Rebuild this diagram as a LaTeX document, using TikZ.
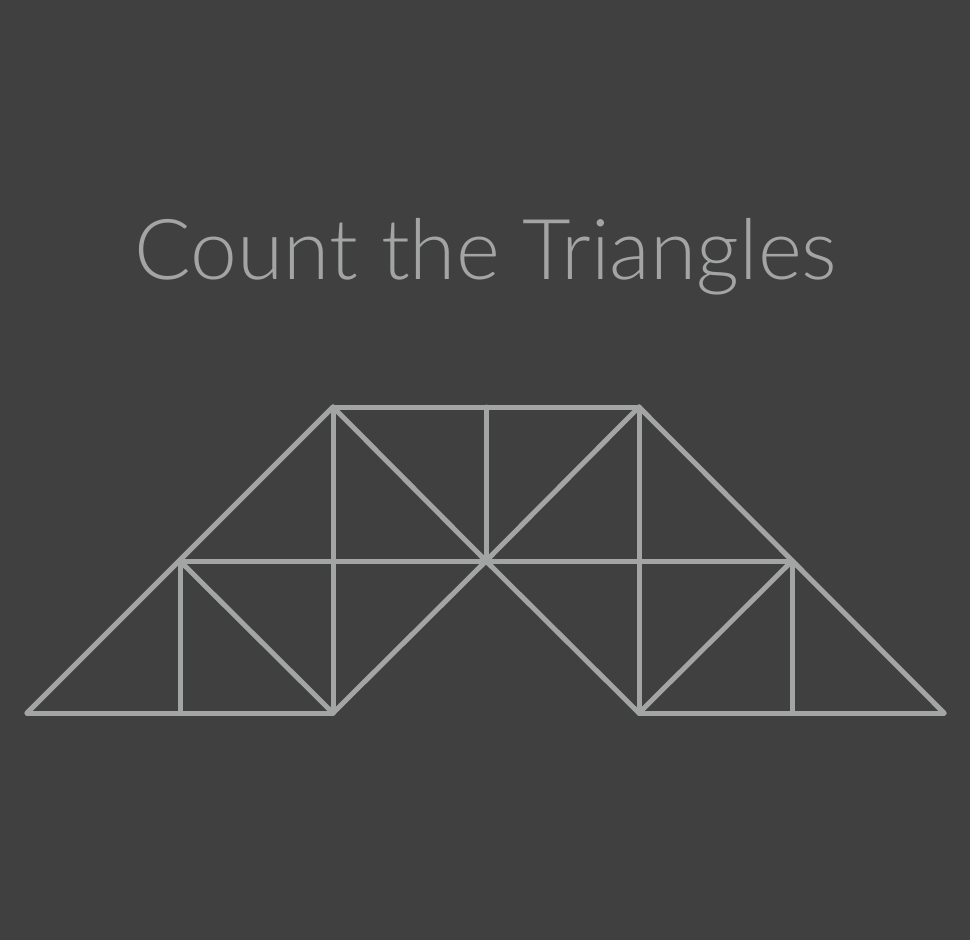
\documentclass[tikz,border=0pt]{standalone}
\usepackage{fontspec}
\setmainfont{Lato}[UprightFont={* Light}]
\definecolor{bg}{HTML}{404040}
\definecolor{ln}{HTML}{A3A5A4}
\begin{document}
\begin{tikzpicture}[x=1pt,y=-1pt,
  truss/.style={draw=ln,line width=5pt,line cap=round,line join=round},
  titletext/.style={text=ln,font=\fontsize{84}{94}\selectfont,inner sep=0pt,anchor=base}]
\fill[bg] (0,0) rectangle (970,940);
\useasboundingbox (0,0) rectangle (970,940);
\node[titletext] (title) at (486,279) {Count the Triangles};
% bottom row
\coordinate (b1) at (27,713);
\coordinate (b2) at (180,713);
\coordinate (b3) at (333,713);
\coordinate (b5) at (639,713);
\coordinate (b6) at (792,713);
\coordinate (b7) at (944,713);
% middle row
\coordinate (m2) at (180,561);
\coordinate (m3) at (333,561);
\coordinate (m4) at (486,561);
\coordinate (m5) at (639,561);
\coordinate (m6) at (792,561);
% top row
\coordinate (t3) at (333,407);
\coordinate (t4) at (486,407);
\coordinate (t5) at (639,407);
\path[truss] (b1) -- (b3);
\path[truss] (b5) -- (b7);
\path[truss] (m2) -- (m6);
\path[truss] (t3) -- (t5);
\path[truss] (b1) -- (t3);
\path[truss] (b7) -- (t5);
\path[truss] (m2) -- (b2);
\path[truss] (t3) -- (b3);
\path[truss] (t4) -- (m4);
\path[truss] (t5) -- (b5);
\path[truss] (m6) -- (b6);
\path[truss] (m2) -- (b3);
\path[truss] (b3) -- (m4);
\path[truss] (t3) -- (m4);
\path[truss] (m4) -- (t5);
\path[truss] (m4) -- (b5);
\path[truss] (b5) -- (m6);
\end{tikzpicture}
\end{document}
